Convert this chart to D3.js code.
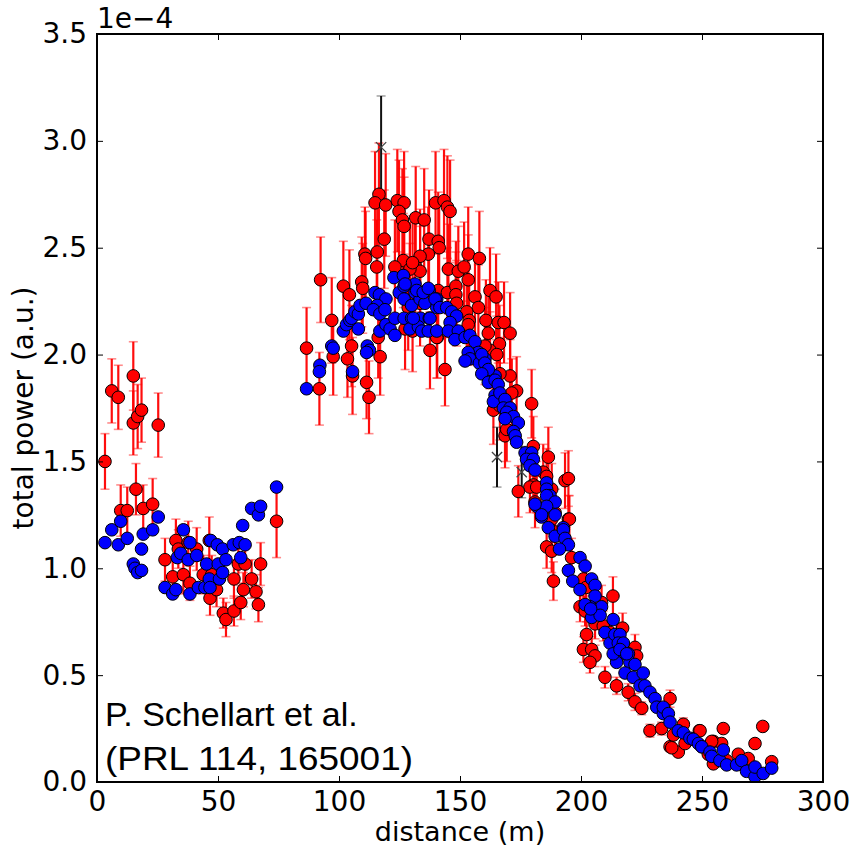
<!DOCTYPE html>
<html>
<head>
<meta charset="utf-8">
<script src="https://cdn.jsdelivr.net/npm/d3@7"></script>
<style>
  body { margin: 0; background: #fff; }
  svg { display: block; }
</style>
</head>
<body>
<div id="chart"></div>
<script>
// values in units of 1e-4 a.u.
// red: measured, [distance, power, error]
const redPoints = [
  [3.3,1.50,0.13],[6.1,1.83,0.15],[8.8,1.80,0.15],[15.0,1.90,0.16],[15.0,1.68,0.15],[16.8,1.71,0.15],[18.4,1.74,0.15],
  [25.3,1.67,0.15],[16.1,1.37,0.12],[9.8,1.27,0.12],[12.5,1.27,0.11],[19.1,1.28,0.11],[23.0,1.30,0.12],[28.1,1.04,0.10],
  [31.3,0.96,0.09],[32.6,1.13,0.10],[33.6,1.09,0.09],[35.7,0.97,0.09],[37.7,1.12,0.10],[38.4,0.93,0.08],[41.2,1.09,0.10],
  [43.9,0.97,0.09],[46.7,0.86,0.08],[46.4,1.13,0.11],[47.4,0.97,0.09],[49.4,0.90,0.08],[52.2,0.79,0.07],[53.3,0.76,0.08],
  [56.6,0.95,0.09],[56.6,0.80,0.07],[58.4,1.02,0.09],[60.5,0.90,0.08],[59.4,0.84,0.08],[61.2,1.02,0.09],[63.9,0.95,0.09],
  [65.7,0.89,0.08],[66.7,0.83,0.08],[67.6,1.02,0.10],[74.2,1.22,0.17],
  [86.6,2.03,0.19],[91.9,1.84,0.17],[92.4,2.35,0.20],[97.0,2.16,0.20],[97.6,1.99,0.18],[101.8,2.32,0.21],[104.3,2.28,0.21],
  [103.5,1.98,0.18],[105.2,2.04,0.19],[105.6,1.90,0.18],[109.4,2.34,0.21],[109.8,2.31,0.21],[111.4,1.87,0.17],[112.4,1.80,0.17],
  [110.7,2.47,0.22],[111.0,2.45,0.22],[115.8,2.48,0.22],[115.6,2.41,0.22],[118.7,2.54,0.23],[116.2,2.08,0.19],[117.0,1.99,0.18],
  [116.5,2.75,0.24],[114.9,2.71,0.24],[119.3,2.70,0.24],[124.1,2.72,0.24],[126.9,2.71,0.24],[124.8,2.67,0.24],[126.2,2.63,0.24],
  [126.9,2.60,0.23],[131.7,2.64,0.24],[135.2,2.63,0.24],[139.9,2.71,0.24],[143.4,2.72,0.24],[144.8,2.69,0.24],[145.9,2.67,0.24],
  [137.2,2.54,0.23],[141.0,2.53,0.23],[141.4,2.50,0.22],[126.6,2.44,0.22],[131.4,2.42,0.22],[133.5,2.39,0.21],[136.9,2.47,0.22],
  [133.5,2.46,0.22],[153.4,2.47,0.22],[158.0,2.45,0.22],[123.1,2.41,0.22],[129.3,2.40,0.22],[145.2,2.40,0.21],[149.3,2.39,0.21],
  [153.4,2.35,0.21],[151.7,2.41,0.21],[141.0,2.30,0.21],[144.8,2.29,0.21],[148.3,2.32,0.21],[148.3,2.28,0.20],[156.2,2.27,0.20],
  [157.6,2.22,0.20],[162.4,2.30,0.20],[164.9,2.27,0.20],[148.6,2.24,0.20],[152.8,2.20,0.20],[153.8,2.16,0.19],[153.4,2.14,0.19],
  [160.7,2.16,0.19],[165.8,2.15,0.19],[168.2,2.15,0.19],[161.7,2.10,0.19],[166.3,2.05,0.18],[162.4,2.02,0.18],[165.2,2.00,0.18],
  [140.6,2.08,0.19],[137.6,2.02,0.18],[143.8,1.93,0.17],[170.7,1.90,0.17],[166.5,1.91,0.17],[130.4,2.43,0.22],[129.3,2.31,0.21],
  [133.5,2.24,0.20],[128.6,2.22,0.20],[127.3,2.12,0.19],[130.4,2.11,0.19],[140.4,2.08,0.19],[170.7,2.10,0.19],[160.3,2.04,0.18],
  [173.4,1.83,0.16],[171.4,1.82,0.16],[179.6,1.77,0.16],[163.8,1.74,0.16],[166.5,1.76,0.16],[168.6,1.62,0.15],[169.3,1.65,0.15],
  [180.3,1.57,0.14],[186.5,1.52,0.14],[184.4,1.45,0.13],[185.8,1.43,0.13],[180.3,1.39,0.12],[178.9,1.38,0.12],[174.1,1.36,0.12],
  [181.7,1.38,0.12],[193.4,1.41,0.13],[194.8,1.42,0.13],[187.9,1.37,0.12],[189.3,1.26,0.11],[194.8,1.23,0.11],
  [181.0,1.31,0.12],[187.9,1.23,0.11],[189.3,1.17,0.10],[195.2,1.23,0.11],[185.8,1.10,0.10],[187.9,1.08,0.10],[188.6,0.94,0.09],
  [196.1,1.05,0.09],[201.0,0.95,0.09],[202.1,0.91,0.08],[199.6,0.82,0.07],[201.7,0.80,0.07],[213.2,0.87,0.09],[205.8,0.82,0.07],
  [208.5,0.84,0.08],[205.8,0.74,0.07],[209.2,0.73,0.07],[202.3,0.69,0.06],[201.0,0.62,0.06],[204.4,0.62,0.06],[205.8,0.59,0.05],
  [203.7,0.56,0.05],[217.2,0.72,0.07],[222.3,0.63,0.06],[214.7,0.68,0.06],[212.0,0.70,0.06],[223.0,0.59,0.05],[209.9,0.49,0.05],
  [214.7,0.45,0.04],[219.5,0.42,0.04],[222.3,0.375,0.04],[225.1,0.345,0.03],[228.5,0.24,0.03],
  [236.8,0.39,0.04],[233.3,0.25,0.03],[236.8,0.165,0.02],[240.2,0.14,0.02],[243.0,0.18,0.02],[242.3,0.27,0.03],[238.2,0.22,0.02],
  [248.9,0.24,0.02],[258.8,0.25,0.02],[254.7,0.19,0.02],[258.1,0.18,0.02],[265.0,0.13,0.02],[269.1,0.11,0.01],[271.9,0.18,0.02],
  [275.1,0.26,0.02],[278.8,0.095,0.01],[246.4,0.20,0.02],[249.9,0.165,0.02],[252.6,0.13,0.02],[254.7,0.085,0.01],[260.2,0.10,0.01],
  [237.5,0.16,0.02],[249.2,0.24,0.02],[254.0,0.19,0.02]
];

// blue: simulated, [distance, power]
const bluePoints = [
  [3.3,1.12],[6.1,1.18],[8.8,1.11],[9.8,1.22],[12.5,1.14],[15.0,1.02],[15.7,1.00],[16.8,0.98],[18.4,0.99],[18.4,1.09],
  [19.1,1.16],[23.0,1.18],[25.3,1.24],[28.1,0.91],[31.3,0.88],[32.6,0.90],[33.2,1.05],[34.6,1.07],[35.7,1.18],[37.7,1.04],
  [38.4,1.12],[38.4,0.88],[41.2,1.06],[41.9,0.91],[44.6,0.91],[45.3,1.02],[46.4,0.95],[46.7,0.91],[47.0,1.13],[49.7,1.11],
  [50.1,1.02],[50.6,0.95],[51.9,1.09],[51.9,0.98],[53.3,1.04],[56.3,1.11],[58.8,1.12],[59.4,1.05],[61.2,1.11],[60.2,1.20],
  [63.9,1.28],[66.7,1.25],[67.6,1.29],[74.2,1.38],
  [86.6,1.84],[92.1,1.95],[91.9,1.92],[97.0,2.04],[97.6,2.03],[101.8,2.11],[103.1,2.14],[104.5,2.16],[105.2,2.17],[106.6,2.20],
  [108.0,2.19],[108.7,2.23],[111.2,2.24],[108.0,2.12],[105.6,1.92],[111.7,2.04],[112.6,2.02],[111.4,2.01],[114.9,2.29],[116.7,2.28],
  [119.4,2.26],[115.8,2.23],[114.2,2.21],[116.9,2.19],[119.0,2.21],[116.9,2.11],[119.4,2.14],[121.1,2.12],[123.1,2.09],[123.1,2.17],
  [122.7,2.36],[126.6,2.37],[124.9,2.29],[126.9,2.32],[126.9,2.26],[131.4,2.33],[131.4,2.29],[134.2,2.29],[136.2,2.30],[137.3,2.30],
  [130.0,2.23],[133.5,2.26],[135.5,2.24],[140.4,2.26],[126.9,2.17],[130.0,2.17],[133.7,2.17],[137.3,2.17],[129.3,2.12],[132.8,2.13],
  [134.2,2.11],[136.9,2.11],[140.4,2.11],[140.4,2.22],
  [127.3,2.33],[132.1,2.30],[134.8,2.29],[136.9,2.31],[139.7,2.26],[141.7,2.22],[144.5,2.22],[146.6,2.20],[148.6,2.18],[130.7,2.17],
  [137.6,2.17],[145.9,2.15],[145.2,2.11],[149.3,2.11],[147.9,2.07],[152.1,2.08],[154.1,2.09],[156.2,2.06],[157.6,2.01],[153.4,2.01],
  [154.1,1.98],[152.1,1.97],[158.0,1.96],[160.3,1.98],[161.3,1.93],[164.5,1.90],
  [159.0,2.00],[160.3,1.96],[161.7,1.93],[159.0,1.91],[161.7,1.87],[164.5,1.88],[165.8,1.86],[164.5,1.81],[163.8,1.78],[166.5,1.82],
  [168.6,1.79],[167.9,1.75],[170.7,1.75],[169.3,1.73],[172.1,1.71],[168.6,1.70],[174.1,1.68],[172.1,1.64],[172.8,1.62],[173.4,1.59],
  [176.9,1.54],[179.6,1.54],[177.5,1.51],[180.3,1.51],[178.9,1.48],[181.0,1.46],[185.8,1.40],[185.8,1.37],[187.2,1.34],[185.8,1.34],
  [189.3,1.31],[181.7,1.29],[185.8,1.29],[183.7,1.24],[189.3,1.25],[186.5,1.19],[192.7,1.19],
  [181.0,1.30],[183.7,1.25],[189.3,1.15],[192.7,1.18],[193.4,1.14],[194.8,1.11],[191.1,1.09],[199.6,1.05],[201.7,1.01],[194.8,0.99],
  [196.6,0.94],[204.4,0.95],[205.8,0.92],[199.6,0.90],[205.8,0.87],[208.5,0.82],[203.7,0.82],[204.4,0.77],[207.9,0.78],[213.3,0.76],
  [209.9,0.70],[212.0,0.65],[201.7,0.83],[204.0,0.81],
  [214.0,0.69],[216.1,0.69],[215.4,0.65],[217.5,0.65],[216.8,0.60],[219.6,0.60],[214.7,0.56],[220.2,0.56],[222.3,0.55],[218.2,0.51],
  [221.6,0.49],[225.7,0.51],[213.3,0.60],[216.1,0.62],[218.9,0.60],[224.4,0.45],[226.4,0.45],[228.5,0.42],[230.6,0.39],[231.3,0.35],
  [234.0,0.32],[234.0,0.35],[236.1,0.32],[236.8,0.28],[240.2,0.24],[242.3,0.23],[245.0,0.205],[246.4,0.20],[248.5,0.18],[249.9,0.165],
  [253.3,0.14],[254.0,0.12],[257.4,0.10],[258.8,0.15],[260.2,0.08],[264.3,0.08],[266.4,0.10],[268.4,0.05],[271.9,0.025],[271.9,0.07],
  [275.3,0.04],[278.8,0.065]
];

// black crosses with error bars
const blackPoints = [
  [117.4,2.97,0.24],[165.3,1.52,0.14],[175.5,1.45,0.12]
];

const xTicks = [0, 50, 100, 150, 200, 250, 300];
const yTicks = [0.0, 0.5, 1.0, 1.5, 2.0, 2.5, 3.0, 3.5];

const width = 854, height = 852;
const margin = { top: 34, right: 31, bottom: 70, left: 97 };

const svg = d3.select('#chart').append('svg')
  .attr('width', width)
  .attr('height', height);

const x = d3.scaleLinear().domain([0, 300]).range([margin.left, width - margin.right]);
const y = d3.scaleLinear().domain([0, 3.5]).range([height - margin.bottom, margin.top]);

const tickFont = 'DejaVu Sans, sans-serif';
const markR = 6.3;

// clip to the axes box
svg.append('defs').append('clipPath').attr('id', 'plot-clip')
  .append('rect')
  .attr('x', margin.left).attr('y', margin.top)
  .attr('width', width - margin.left - margin.right)
  .attr('height', height - margin.top - margin.bottom);

const plot = svg.append('g').attr('clip-path', 'url(#plot-clip)');

// red error bars
const capW = 4.5;
const redErr = plot.append('g');
redErr.selectAll('line.bar')
  .data(redPoints)
  .join('line')
  .attr('class', 'bar')
  .attr('x1', d => x(d[0])).attr('x2', d => x(d[0]))
  .attr('y1', d => y(d[1] - d[2])).attr('y2', d => y(d[1] + d[2]))
  .attr('stroke', '#ff0000')
  .attr('stroke-opacity', 0.95)
  .attr('stroke-width', 2.2);

redErr.selectAll('line.cap')
  .data(redPoints.flatMap(d => [[d[0], d[1] - d[2]], [d[0], d[1] + d[2]]]))
  .join('line')
  .attr('class', 'cap')
  .attr('x1', d => x(d[0]) - capW).attr('x2', d => x(d[0]) + capW)
  .attr('y1', d => y(d[1])).attr('y2', d => y(d[1]))
  .attr('stroke', '#ff0000')
  .attr('stroke-opacity', 0.45)
  .attr('stroke-width', 1.6);

// black error bars + x markers
const blk = plot.append('g');
blk.selectAll('line.bar')
  .data(blackPoints)
  .join('line')
  .attr('class', 'bar')
  .attr('x1', d => x(d[0])).attr('x2', d => x(d[0]))
  .attr('y1', d => y(d[1] - d[2])).attr('y2', d => y(d[1] + d[2]))
  .attr('stroke', '#111')
  .attr('stroke-width', 2);

blk.selectAll('line.cap')
  .data(blackPoints.flatMap(d => [[d[0], d[1] - d[2]], [d[0], d[1] + d[2]]]))
  .join('line')
  .attr('class', 'cap')
  .attr('x1', d => x(d[0]) - capW).attr('x2', d => x(d[0]) + capW)
  .attr('y1', d => y(d[1])).attr('y2', d => y(d[1]))
  .attr('stroke', '#111')
  .attr('stroke-opacity', 0.4)
  .attr('stroke-width', 1.5);

blk.selectAll('path.mark')
  .data(blackPoints)
  .join('path')
  .attr('class', 'mark')
  .attr('d', d3.symbol(d3.symbolX, 70))
  .attr('transform', d => `translate(${x(d[0])},${y(d[1])})`)
  .attr('fill', 'none')
  .attr('stroke', '#444')
  .attr('stroke-width', 1.3);

// red markers
plot.append('g').selectAll('circle')
  .data(redPoints)
  .join('circle')
  .attr('cx', d => x(d[0]))
  .attr('cy', d => y(d[1]))
  .attr('r', markR)
  .attr('fill', '#ff0000')
  .attr('stroke', '#000')
  .attr('stroke-width', 1);

// blue markers
plot.append('g').selectAll('circle')
  .data(bluePoints)
  .join('circle')
  .attr('cx', d => x(d[0]))
  .attr('cy', d => y(d[1]))
  .attr('r', markR)
  .attr('fill', '#0000ff')
  .attr('stroke', '#000')
  .attr('stroke-width', 1);

// axes: inward ticks on all four sides (classic matplotlib look)
const tickLen = 6;
const styleAxis = g => {
  g.select('.domain').remove();
  g.selectAll('.tick line').attr('stroke', '#000').attr('stroke-width', 1);
  g.selectAll('.tick text').attr('font-family', tickFont).attr('font-size', 28).attr('fill', '#000');
};

svg.append('g')
  .attr('transform', `translate(0,${height - margin.bottom})`)
  .call(d3.axisBottom(x).tickValues(xTicks).tickSize(-tickLen).tickPadding(9).tickFormat(d3.format('d')))
  .call(styleAxis);

svg.append('g')
  .attr('transform', `translate(0,${margin.top})`)
  .call(d3.axisTop(x).tickValues(xTicks).tickSize(-tickLen).tickFormat(''))
  .call(styleAxis);

svg.append('g')
  .attr('transform', `translate(${margin.left},0)`)
  .call(d3.axisLeft(y).tickValues(yTicks).tickSize(-tickLen).tickPadding(10).tickFormat(d3.format('.1f')))
  .call(styleAxis);

svg.append('g')
  .attr('transform', `translate(${width - margin.right},0)`)
  .call(d3.axisRight(y).tickValues(yTicks).tickSize(-tickLen).tickFormat(''))
  .call(styleAxis);

// frame
svg.append('rect')
  .attr('x', margin.left).attr('y', margin.top)
  .attr('width', width - margin.left - margin.right)
  .attr('height', height - margin.top - margin.bottom)
  .attr('fill', 'none')
  .attr('stroke', '#000')
  .attr('stroke-width', 2);

// offset text
svg.append('text')
  .attr('x', margin.left)
  .attr('y', 28)
  .attr('font-family', tickFont)
  .attr('font-size', 28)
  .text('1e\u22124');

// axis labels
svg.append('text')
  .attr('x', (margin.left + width - margin.right) / 2)
  .attr('y', 841)
  .attr('text-anchor', 'middle')
  .attr('font-family', tickFont)
  .attr('font-size', 27)
  .text('distance (m)');

svg.append('text')
  .attr('transform', `translate(33,${(margin.top + height - margin.bottom) / 2}) rotate(-90)`)
  .attr('text-anchor', 'middle')
  .attr('font-family', tickFont)
  .attr('font-size', 28)
  .text('total power (a.u.)');

// citation
const cite = svg.append('text')
  .attr('font-family', 'Liberation Sans, Arial, sans-serif')
  .attr('font-size', 34)
  .attr('fill', '#000');
cite.append('tspan').attr('x', 105).attr('y', 726).text('P. Schellart et al.');
cite.append('tspan').attr('x', 105).attr('y', 770)
  .attr('textLength', 308).attr('lengthAdjust', 'spacingAndGlyphs')
  .text('(PRL 114, 165001)');
</script>
</body>
</html>
